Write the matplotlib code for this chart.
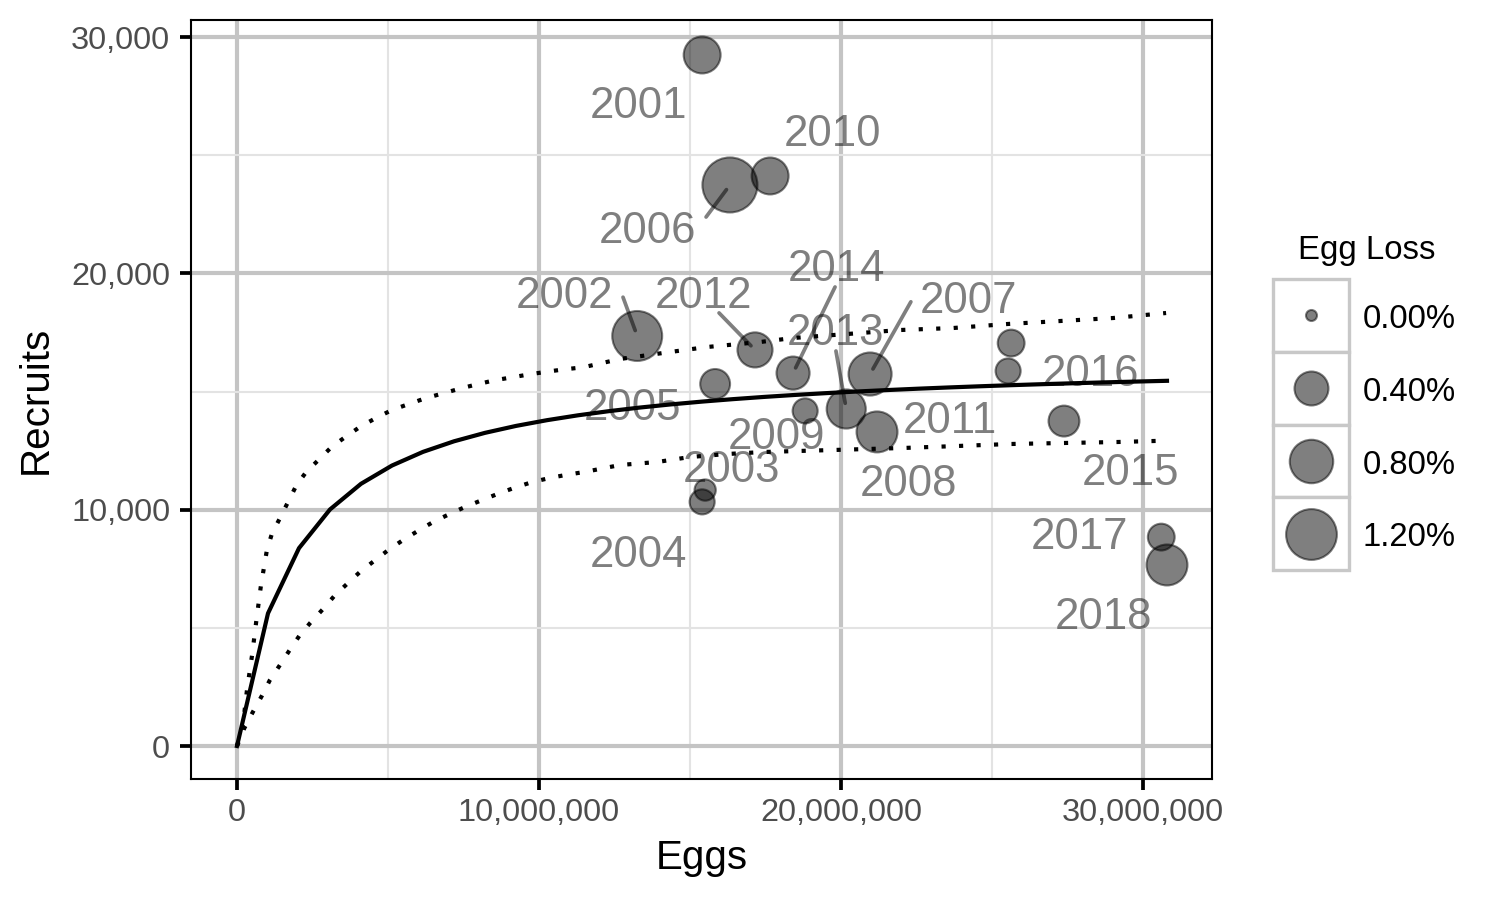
import numpy as np
import matplotlib
matplotlib.use("Agg")
import matplotlib.pyplot as plt
from matplotlib.ticker import FuncFormatter, MultipleLocator
from matplotlib.patches import Rectangle
import matplotlib.transforms as mtransforms

plt.rcParams['font.family'] = ['Liberation Sans', 'DejaVu Sans']

# observed years
years = [2001, 2002, 2003, 2004, 2005, 2006, 2007, 2008, 2009,
         2010, 2011, 2012, 2013, 2014, 2015, 2016, 2017, 2018]
eggs = [15.40e6, 13.25e6, 15.50e6, 15.40e6, 15.83e6, 16.32e6, 20.96e6, 21.19e6, 18.81e6,
        17.65e6, 25.53e6, 17.15e6, 20.17e6, 18.41e6, 27.38e6, 25.63e6, 30.60e6, 30.79e6]
recruits = [29240, 17350, 10830, 10330, 15320, 23740, 15740, 13290, 14180,
            24120, 15870, 16760, 14260, 15780, 13750, 17050, 8840, 7660]
egg_loss = [0.51, 1.15, 0.08, 0.15, 0.27, 1.47, 0.78, 0.68, 0.15,
            0.51, 0.15, 0.44, 0.60, 0.37, 0.30, 0.19, 0.19, 0.68]

# label positions (repelled)
lab_x = [13.28e6, 10.83e6, 16.36e6, 13.28e6, 13.11e6, 13.58e6, 24.21e6, 22.22e6, 17.85e6,
         19.70e6, 23.61e6, 15.46e6, 19.83e6, 19.83e6, 29.57e6, 28.25e6, 27.88e6, 28.68e6]
lab_y = [27208, 19210, 11806, 8251, 14471, 21919, 18957, 11255, 13244,
         26065, 13921, 19210, 17603, 20311, 11679, 15910, 9013, 5628]

# segment starts for labels that got pushed away
seg_year = [2006, 2002, 2012, 2014, 2013, 2007]
seg_x = [15.53e6, 12.78e6, 15.96e6, 19.80e6, 19.83e6, 22.31e6]
seg_y = [22384, 18990, 18325, 19422, 16714, 18795]

# fitted curve
fit_eggs = np.arange(31) * 30.79e6 / 30
fit_rec = [0, 5614, 8372, 10010, 11095, 11868, 12446, 12893, 13251, 13544,
           13787, 13993, 14169, 14322, 14455, 14573, 14677, 14771, 14855, 14931,
           15000, 15063, 15121, 15174, 15223, 15269, 15311, 15350, 15387, 15421, 15453]

# upper / lower bounds
up_eggs_m = [0, 0.19, 0.33, 0.50, 0.64, 0.79, 0.99, 1.16, 1.42, 1.69, 1.96, 2.29, 2.72,
             3.14, 3.60, 4.08, 4.60, 5.13, 5.69, 6.26, 6.83, 7.37, 7.95, 8.52, 9.11,
             9.69, 10.26, 10.84, 11.46, 12.68, 14.34, 15.56, 17.32, 18.41, 20.20,
             21.95, 23.71, 25.50, 27.25, 29.01, 30.76]
up_rec = [0, 817, 2370, 3851, 5302, 6770, 8293, 9000, 9635, 10325, 11015, 11594, 12131,
          12665, 13088, 13511, 13879, 14217, 14471, 14725, 14924, 15119, 15305, 15474, 15601,
          15728, 15838, 15939, 16024, 16376, 16672, 16883, 17095, 17264, 17433,
          17602, 17687, 17856, 17983, 18110, 18322]
lo_eggs_m = [0, 0.24, 0.53, 0.82, 1.09, 1.40, 1.73, 2.06, 2.43, 2.84, 3.22, 3.64, 4.08,
             4.55, 5.01, 5.50, 6.00, 6.51, 7.04, 7.57, 8.12, 8.68, 9.23, 9.78, 10.35,
             10.93, 11.50, 12.68, 13.91, 15.00, 16.23, 17.42, 18.54, 19.74, 20.86,
             22.05, 23.84, 25.60, 27.35, 29.14, 30.76]
lo_rec = [0, 749, 1451, 2116, 2793, 3385, 4033, 4655, 5217, 5784, 6347, 6855, 7375,
          7841, 8293, 8717, 9110, 9491, 9817, 10126, 10409, 10693, 10947, 11171, 11340,
          11480, 11594, 11890, 12017, 12229, 12356, 12440, 12482, 12525, 12567,
          12610, 12694, 12779, 12821, 12863, 12920]

legend_breaks = [0.0, 0.4, 0.8, 1.2]


def marker_size(v):
    # diameter in px at 300 dpi -> area in pt^2
    d_px = 13 + 36.3 * np.sqrt(np.asarray(v)) - 2
    return (d_px * 72 / 300) ** 2


fig = plt.figure(figsize=(5, 3), dpi=300)
ax = fig.add_axes([191 / 1500, 1 - 779 / 900, 1021 / 1500, 759 / 900])

ax.set_xlim(-1.523e6, 32.28e6)
ax.set_ylim(-1396, 30720)
ax.xaxis.set_major_locator(MultipleLocator(10e6))
ax.xaxis.set_minor_locator(MultipleLocator(5e6))
ax.yaxis.set_major_locator(MultipleLocator(10000))
ax.yaxis.set_minor_locator(MultipleLocator(5000))
fmt = FuncFormatter(lambda v, p: f"{v:,.0f}")
ax.xaxis.set_major_formatter(fmt)
ax.yaxis.set_major_formatter(fmt)

ax.grid(which='major', color='#c4c4c4', lw=1.0, zorder=0)
ax.grid(which='minor', color='#e3e3e3', lw=0.5, zorder=0)
ax.set_axisbelow(True)
ax.tick_params(which='major', length=2.6, width=0.9, color='black',
               labelsize=7.8, labelcolor='#4d4d4d')
ax.tick_params(axis='x', pad=2.0)
ax.tick_params(axis='y', pad=2.4)
ax.tick_params(which='minor', length=0)
for s in ax.spines.values():
    s.set_linewidth(0.5)
    s.set_color('black')

# curves
ax.plot(fit_eggs, fit_rec, color='black', lw=1.0, zorder=3)
ax.plot(np.array(up_eggs_m) * 1e6, up_rec, color='black', lw=1.0,
        linestyle=(0, (1, 3.2)), zorder=3)
ax.plot(np.array(lo_eggs_m) * 1e6, lo_rec, color='black', lw=1.0,
        linestyle=(0, (1, 3.2)), zorder=3)

# points
ax.scatter(eggs, recruits, s=marker_size(egg_loss), facecolor=(0, 0, 0, 0.5),
           edgecolor=(0, 0, 0, 0.5), linewidths=0.5, zorder=4)

# labels
off = mtransforms.offset_copy(ax.transData, fig=fig, x=0, y=-15.5 * 0.24, units='points')
for yr, lx, ly in zip(years, lab_x, lab_y):
    ax.text(lx, ly, str(yr), transform=off, ha='center', va='baseline',
            fontsize=10.5, color='black', alpha=0.5, zorder=5)

for yr, sx, sy in zip(seg_year, seg_x, seg_y):
    i = years.index(yr)
    ax.annotate("", xy=(eggs[i], recruits[i]), xytext=(sx, sy),
                arrowprops=dict(arrowstyle='-', color=(0, 0, 0, 0.5), lw=0.9,
                                shrinkA=0, shrinkB=1.4), zorder=5)

ax.set_xlabel("Eggs", fontsize=9.7, labelpad=2.5)
ax.set_ylabel("Recruits", fontsize=9.7, labelpad=4)

# legend
lax = fig.add_axes([1273 / 1500, 1 - 570 / 900, 76 / 1500, 291 / 900])
lax.set_xlim(0, 1)
lax.set_ylim(len(legend_breaks), 0)
lax.axis('off')
for i, b in enumerate(legend_breaks):
    lax.add_patch(Rectangle((0, i), 1, 1, facecolor='white', edgecolor='#c8c8c8',
                            lw=0.8, clip_on=False))
    lax.scatter([0.5], [i + 0.5], s=marker_size(b), facecolor=(0, 0, 0, 0.5),
                edgecolor=(0, 0, 0, 0.5), linewidths=0.5, clip_on=False, zorder=3)
    lax.text(1.18, i + 0.56, f"{b:.2f}%", ha='left', va='center', fontsize=7.9,
             color='black')
fig.text(1298 / 1500, 1 - 250 / 900, "Egg Loss", ha='left', va='center', fontsize=7.9)

fig.savefig("out.png", dpi=300)
